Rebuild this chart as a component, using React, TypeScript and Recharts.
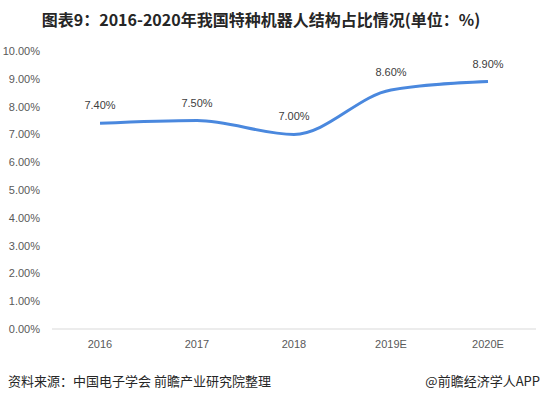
import { LineChart, Line, XAxis, YAxis, LabelList } from 'recharts';

const years = ['2016', '2017', '2018', '2019E', '2020E'];
const shares = [7.4, 7.5, 7.0, 8.6, 8.9];
const yTicks = [0, 1, 2, 3, 4, 5, 6, 7, 8, 9, 10];

const data = years.map((year, i) => ({ year, share: shares[i] }));

const cjk = '"Noto Sans CJK SC", "Microsoft YaHei", sans-serif';
const latin = '"Liberation Sans", Arial, sans-serif';

export default function App() {
  return (
    <div style={{ position: 'absolute', left: 0, top: 0, width: 548, height: 399, background: '#fff', overflow: 'hidden' }}>
      <div style={{
        position: 'absolute', left: 19, top: 7, width: 484, textAlign: 'center',
        fontFamily: cjk, fontWeight: 700, fontSize: 16, color: '#262626', whiteSpace: 'nowrap',
      }}>
        图表9：2016-2020年我国特种机器人结构占比情况(单位：%)
      </div>

      <div style={{ position: 'absolute', left: 0, top: 0 }}>
        <LineChart width={548} height={399} data={data} margin={{ top: 51, right: 12, bottom: 40, left: 0 }}>
          <XAxis dataKey="year" axisLine={{ stroke: '#d9d9d9' }} tickLine={false} tickMargin={5}
            padding={{ left: 48, right: 48 }}
            tick={{ fill: '#595959', fontSize: 11, fontFamily: latin }} />
          <YAxis width={52} domain={[0, 10]} ticks={yTicks} axisLine={false} tickLine={false} tickMargin={6}
            tick={{ fill: '#595959', fontSize: 11, fontFamily: latin }}
            tickFormatter={v => `${Number(v).toFixed(2)}%`} />
          <Line dataKey="share" type="monotone" stroke="#4a88de" strokeWidth={3} dot={false}
            activeDot={false} isAnimationActive={false}>
            <LabelList dataKey="share" position="top" offset={14} fill="#404040" fontSize={11}
              fontFamily={latin} formatter={(v: number) => `${v.toFixed(2)}%`} />
          </Line>
        </LineChart>
      </div>

      <div style={{ position: 'absolute', left: 8, top: 371, fontFamily: cjk, fontSize: 13, color: '#262626', whiteSpace: 'nowrap' }}>
        资料来源：中国电子学会 前瞻产业研究院整理
      </div>
      <div style={{ position: 'absolute', right: 8, top: 371, fontFamily: cjk, fontSize: 13, color: '#262626', whiteSpace: 'nowrap' }}>
        @前瞻经济学人APP
      </div>
    </div>
  );
}
